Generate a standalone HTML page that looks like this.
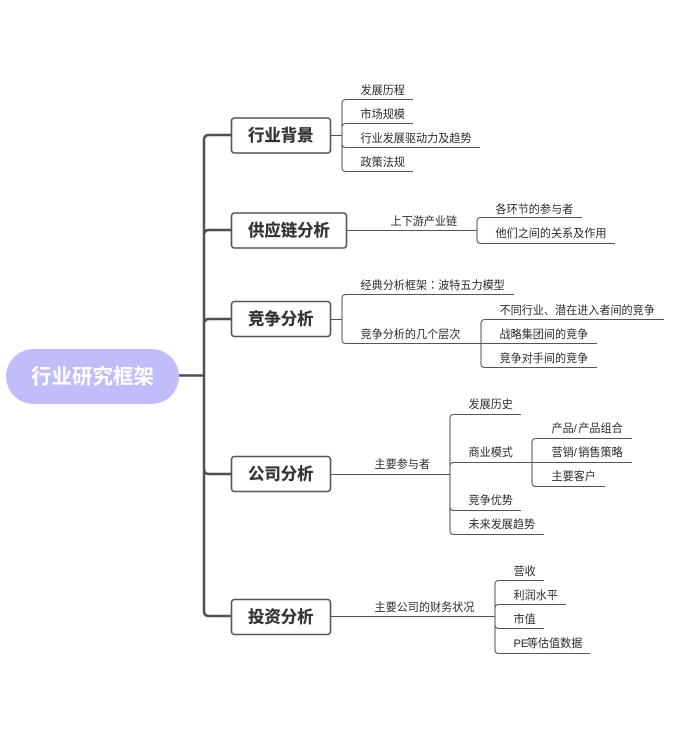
<!DOCTYPE html>
<html><head><meta charset="utf-8"><style>
html,body{margin:0;padding:0;background:#fff;width:698px;height:732px;overflow:hidden}
svg{display:block;filter:blur(.35px)}
text{font-family:"Liberation Sans","Noto Sans CJK SC",sans-serif;font-size:11.1px;fill:#2b2b2b}
.t{font-size:16.4px;font-weight:700;fill:#333;stroke:#333;stroke-width:.25}
.r{font-size:20.5px;font-weight:700;fill:#fff}
.l{fill:none;stroke:#555;stroke-width:1}
.k{fill:none;stroke:#505050;stroke-width:2.5}
.b{fill:#fff;stroke:#555;stroke-width:1.6}
.c{font-family:"Liberation Sans","Noto Sans CJK TC",sans-serif}
</style></head><body>
<svg width="698" height="732" viewBox="0 0 698 732" xmlns="http://www.w3.org/2000/svg">
<path class="k" d="M179 375.500H204M231 135H209Q204 135 204 140V611Q204 616 209 616H231M231 230H209Q204 230 204 235M231 319H209Q204 319 204 324M204 469Q204 474 209 474H231"/>
<rect x="6" y="349" width="173" height="55" rx="27.500" fill="#c1bdfa"/>
<text class="r" x="31" y="383.500">行业研究框架</text>
<rect class="b" x="231.500" y="118" width="99" height="35" rx="3"/>
<rect class="b" x="231.500" y="213" width="115" height="35" rx="3"/>
<rect class="b" x="231.500" y="301.500" width="99" height="35" rx="3"/>
<rect class="b" x="231.500" y="456.500" width="99" height="35" rx="3"/>
<rect class="b" x="231.500" y="599.500" width="99" height="35" rx="3"/>
<text class="t" x="248" y="141">行业背景</text>
<text class="t" x="248" y="236">供应链分析</text>
<text class="t" x="248" y="324.500">竞争分析</text>
<text class="t" x="248" y="479.500">公司分析</text>
<text class="t" x="248" y="622.500">投资分析</text>
<path class="l" d="M331 135.500H342M413 99.500H346Q342 99.500 342 103.500V167.500Q342 171.500 346 171.500H413M413 123.500H346Q342 123.500 342 127.500M480 147.500H346Q342 147.500 342 143.500"/>
<path class="l" d="M347 230.500H477M582 217.500H481Q477 217.500 477 221.500V239.500Q477 243.500 481 243.500H615"/>
<path class="l" d="M331 319.500H342M514 294.500H346Q342 294.500 342 298.500V339.500Q342 343.500 346 343.500H597M664 319.500H485Q481 319.500 481 323.500V363.500Q481 367.500 485 367.500H597"/>
<path class="l" d="M331 474.500H450M521 414.500H454Q450 414.500 450 418.500V530.500Q450 534.500 454 534.500H544M632 462.500H454Q450 462.500 450 466.500M521 510.500H454Q450 510.500 450 506.500M632 438.500H536Q532 438.500 532 442.500V482.500Q532 486.500 536 486.500H605"/>
<path class="l" d="M331 616.500H495M544 580.500H499Q495 580.500 495 584.500V649.500Q495 653.500 499 653.500H590M566 604.500H499Q495 604.500 495 608.500M544 628.500H499Q495 628.500 495 624.500"/>
<text x="360.500" y="94">发展历程</text>
<text x="360.500" y="118">市场规模</text>
<text x="360.500" y="142">行业发展驱动力及趋势</text>
<text x="360.500" y="166">政策法规</text>
<text x="390.500" y="225">上下游产业链</text>
<text x="495.500" y="213">各环节的参与者</text>
<text x="495.500" y="237">他们之间的关系及作用</text>
<text x="360.500" y="289">经典分析框架<tspan class="c">：</tspan>波特五力模型</text>
<text x="360.500" y="338">竞争分析的几个层次</text>
<text x="499.500" y="314">不同行业、潜在进入者间的竞争</text>
<text x="499.500" y="338">战略集团间的竞争</text>
<text x="499.500" y="362">竞争对手间的竞争</text>
<text x="374.500" y="468">主要参与者</text>
<text x="468.500" y="408">发展历史</text>
<text x="468.500" y="456">商业模式</text>
<text x="468.500" y="504">竞争优势</text>
<text x="468.500" y="528">未来发展趋势</text>
<text x="551.500" y="432">产品/<tspan dx="1.5">产品组合</tspan></text>
<text x="551.500" y="456">营销/<tspan dx="1.5">销售策略</tspan></text>
<text x="551.500" y="480">主要客户</text>
<text x="374.500" y="611">主要公司的财务状况</text>
<text x="513.500" y="575">营收</text>
<text x="513.500" y="599">利润水平</text>
<text x="513.500" y="623">市值</text>
<text x="513.500" y="647">PE<tspan dx="-1.500">等估值数据</tspan></text>
</svg>
</body></html>
